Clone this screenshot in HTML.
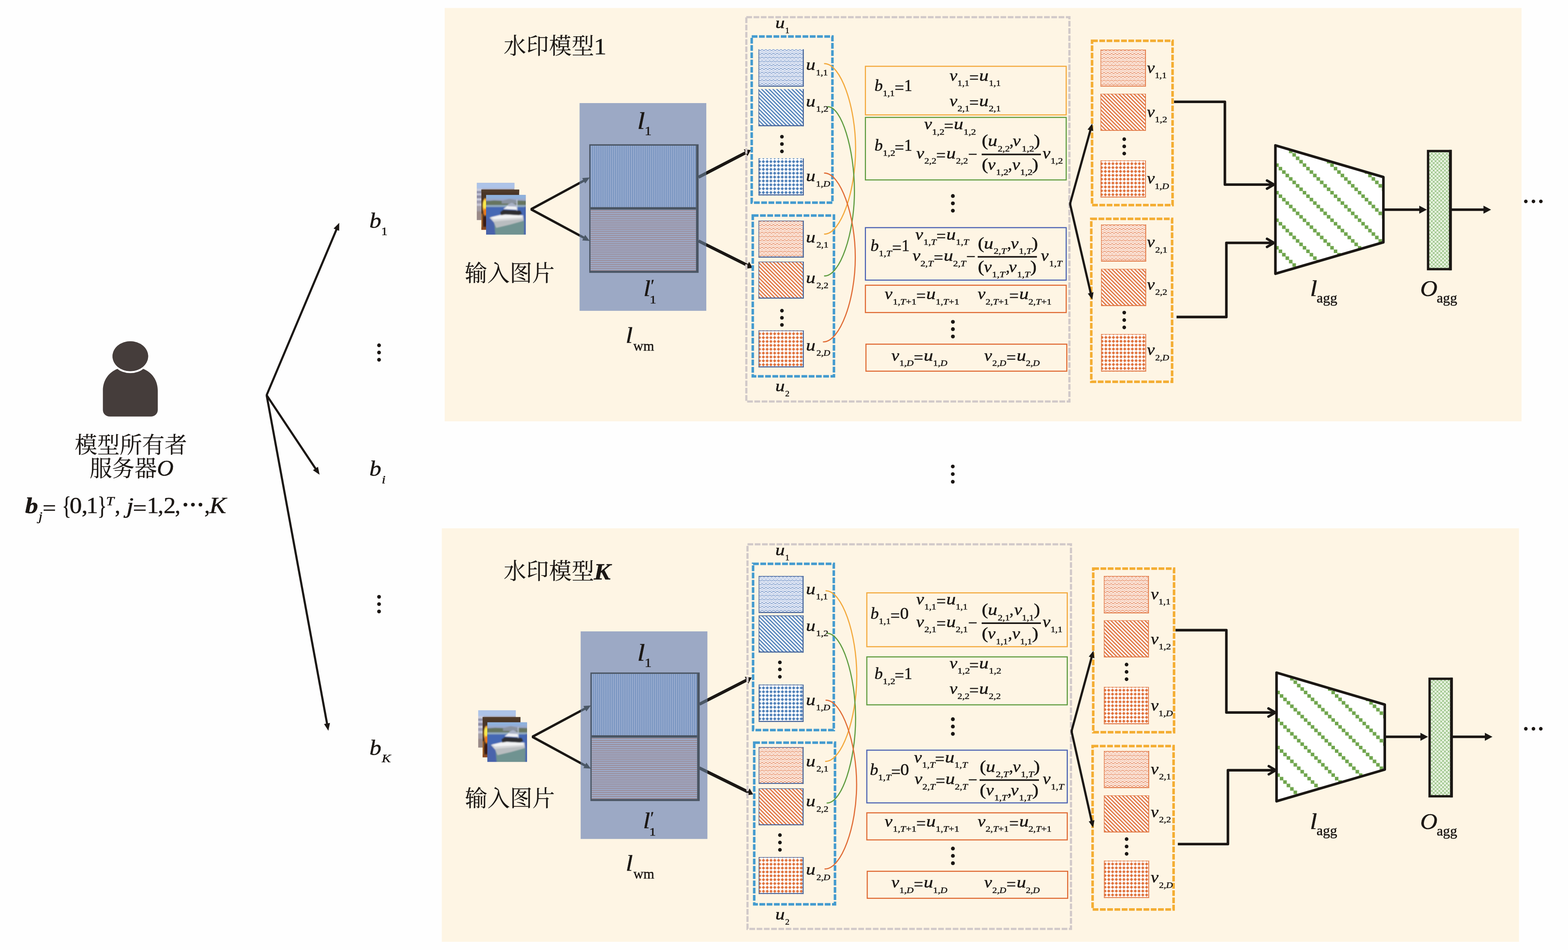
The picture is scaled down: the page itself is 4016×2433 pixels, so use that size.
<!DOCTYPE html>
<html lang="zh-CN"><head><meta charset="utf-8"><title>水印模型框架</title><style>
html,body{margin:0;padding:0;background:#fff;}
body{width:4016px;height:2433px;overflow:hidden;}
svg{display:block;}
text{fill:#1b1714;stroke:#1b1714;stroke-width:0.62px;stroke-linejoin:round;paint-order:stroke;white-space:pre;}
.i{font-family:"Liberation Serif","DejaVu Serif",serif;font-style:italic;}
.r{font-family:"Liberation Serif","DejaVu Serif",serif;font-style:normal;}
.bi{font-family:"Liberation Serif","DejaVu Serif",serif;font-style:italic;font-weight:bold;}
.bd{font-family:"Liberation Serif","DejaVu Serif",serif;font-weight:bold;}
.c{font-family:"Liberation Serif","Noto Serif CJK SC","Noto Serif CJK JP",serif;stroke-width:0.25px;}
</style></head><body><svg xmlns="http://www.w3.org/2000/svg" width="4016" height="2433" viewBox="0 0 4016 2433" style="will-change:transform"><defs><pattern id="wave_b" x="4.3" y="-0.6" width="9.68" height="9.68" patternUnits="userSpaceOnUse">
<rect width="9.68" height="9.68" fill="#fff"/>
<path d="M-4.84,0.5 L0,4.4 L4.84,0.5 L9.68,4.4 L14.52,0.5" fill="none" stroke="#6286c2" stroke-width="1.55" stroke-linejoin="round"/>
<path d="M-4.84,5.34 L0,9.24 L4.84,5.34 L9.68,9.24 L14.52,5.34" fill="none" stroke="#9db2dc" stroke-width="1.55" stroke-linejoin="round"/>
<path d="M-4.84,-4.34 L0,-0.44 L4.84,-4.34 L9.68,-0.44 L14.52,-4.34" fill="none" stroke="#9db2dc" stroke-width="1.55" stroke-linejoin="round"/>
<path d="M-4.84,10.18 L0,14.08 L4.84,10.18 L9.68,14.08 L14.52,10.18" fill="none" stroke="#6286c2" stroke-width="1.55" stroke-linejoin="round"/></pattern><pattern id="diag_b" x="7.8" y="0" width="9.68" height="9.68" patternUnits="userSpaceOnUse">
<rect width="9.68" height="9.68" fill="#fff"/>
<path d="M-3,-3 L12.68,12.68 M6.68,-3 L12.68,3 M-3,6.68 L3,12.68" fill="none" stroke="#4e7fb8" stroke-width="3.1"/></pattern><pattern id="dia_b" x="-2.12" y="3.45" width="9.68" height="9.9" patternUnits="userSpaceOnUse">
<rect width="9.68" height="9.9" fill="#fff"/>
<path d="M4.84,1.35 L8.54,4.95 L4.84,8.55 L1.14,4.95 Z" fill="#4e7fb8" stroke="#4e7fb8" stroke-width="1" stroke-linejoin="round"/></pattern><pattern id="wave_o" x="4.3" y="-0.6" width="9.68" height="9.68" patternUnits="userSpaceOnUse">
<rect width="9.68" height="9.68" fill="#fff"/>
<path d="M-4.84,0.5 L0,4.4 L4.84,0.5 L9.68,4.4 L14.52,0.5" fill="none" stroke="#e37846" stroke-width="1.55" stroke-linejoin="round"/>
<path d="M-4.84,5.34 L0,9.24 L4.84,5.34 L9.68,9.24 L14.52,5.34" fill="none" stroke="#f0ab88" stroke-width="1.55" stroke-linejoin="round"/>
<path d="M-4.84,-4.34 L0,-0.44 L4.84,-4.34 L9.68,-0.44 L14.52,-4.34" fill="none" stroke="#f0ab88" stroke-width="1.55" stroke-linejoin="round"/>
<path d="M-4.84,10.18 L0,14.08 L4.84,10.18 L9.68,14.08 L14.52,10.18" fill="none" stroke="#e37846" stroke-width="1.55" stroke-linejoin="round"/></pattern><pattern id="diag_o" x="7.8" y="0" width="9.68" height="9.68" patternUnits="userSpaceOnUse">
<rect width="9.68" height="9.68" fill="#fff"/>
<path d="M-3,-3 L12.68,12.68 M6.68,-3 L12.68,3 M-3,6.68 L3,12.68" fill="none" stroke="#e0723c" stroke-width="3.1"/></pattern><pattern id="dia_o" x="-2.12" y="3.45" width="9.68" height="9.9" patternUnits="userSpaceOnUse">
<rect width="9.68" height="9.9" fill="#fff"/>
<path d="M4.84,1.35 L8.54,4.95 L4.84,8.55 L1.14,4.95 Z" fill="#e0723c" stroke="#e0723c" stroke-width="1" stroke-linejoin="round"/></pattern><pattern id="vstr" x="-0.6" width="4.87" height="10" patternUnits="userSpaceOnUse">
<rect width="4.87" height="10" fill="#6b8cbb"/>
<rect x="2.2" width="2.3" height="10" fill="#a9b7d6"/>
<rect x="1.7" width="0.5" height="10" fill="#8aa1c9"/>
<rect x="4.5" width="0.37" height="10" fill="#8aa1c9"/></pattern><pattern id="hstr" y="-1.2" width="10" height="4.93" patternUnits="userSpaceOnUse">
<rect width="10" height="4.93" fill="#9db4d8"/>
<rect y="2.45" width="10" height="2.2" fill="#9b8186"/></pattern><pattern id="gdiag1" x="3275" y="427.4" width="70.56" height="70.56" patternUnits="userSpaceOnUse">
<rect width="70.56" height="70.56" fill="#fff"/>
<g fill="#6fa54d">
<rect x="-0.15" y="-0.15" width="9.12" height="9.12"/>
<rect x="8.67" y="8.67" width="9.12" height="9.12"/>
<rect x="17.49" y="17.49" width="9.12" height="9.12"/>
<rect x="26.31" y="26.31" width="9.12" height="9.12"/>
<rect x="35.13" y="35.13" width="9.12" height="9.12"/>
<rect x="43.95" y="43.95" width="9.12" height="9.12"/>
<rect x="52.77" y="52.77" width="9.12" height="9.12"/>
<rect x="61.59" y="61.59" width="9.12" height="9.12"/></g></pattern><pattern id="gdiag2" x="3277.9" y="1777.9" width="70.56" height="70.56" patternUnits="userSpaceOnUse">
<rect width="70.56" height="70.56" fill="#fff"/>
<g fill="#6fa54d">
<rect x="-0.15" y="-0.15" width="9.12" height="9.12"/>
<rect x="8.67" y="8.67" width="9.12" height="9.12"/>
<rect x="17.49" y="17.49" width="9.12" height="9.12"/>
<rect x="26.31" y="26.31" width="9.12" height="9.12"/>
<rect x="35.13" y="35.13" width="9.12" height="9.12"/>
<rect x="43.95" y="43.95" width="9.12" height="9.12"/>
<rect x="52.77" y="52.77" width="9.12" height="9.12"/>
<rect x="61.59" y="61.59" width="9.12" height="9.12"/></g></pattern><pattern id="gtrel" width="9.6" height="9.6" patternUnits="userSpaceOnUse">
<rect width="9.6" height="9.6" fill="#f6fbf2"/>
<path d="M-1,-1 L10.6,10.6 M10.6,-1 L-1,10.6" stroke="#79af60" stroke-width="1.25" fill="none"/>
<path d="M-1,3.8 L5.8,10.6 M3.8,-1 L10.6,5.8 M-1,5.8 L5.8,-1 M3.8,10.6 L10.6,3.8" stroke="#cfe5c3" stroke-width="0.7" fill="none"/></pattern><filter id="blur1" x="-10%" y="-10%" width="120%" height="120%"><feGaussianBlur stdDeviation="1.7"/></filter><filter id="soft" x="-5%" y="-5%" width="110%" height="110%"><feGaussianBlur stdDeviation="0.6"/></filter></defs>
<rect width="4016" height="2433" fill="#fefefe"/>
<g id="left"><ellipse cx="333.8" cy="912.3" rx="45.6" ry="38.3" fill="#453d3b"/>
<path d="M301.3,944.5 C315.8,956.3 351.8,956.3 366.3,944.5 C389.8,953.5 404.1,974.5 404.1,1000.5 V1049.7 C404.1,1059.7 396.1,1066.7 386.1,1066.7 H281.5 C271.5,1066.7 263.5,1059.7 263.5,1049.7 V1000.5 C263.5,974.5 277.8,953.5 301.3,944.5 Z" fill="#453d3b"/><ellipse cx="333.8" cy="912.3" rx="48.6" ry="41.6" fill="none" stroke="#fff" stroke-width="3.4"/><ellipse cx="333.8" cy="912.3" rx="45.6" ry="38.3" fill="#453d3b"/>
<text class="c" x="191.5" y="1160" font-size="57.5">模型所有者</text>
<text class="c" x="229.5" y="1220" font-size="57.5">服务器</text>
<text class="i" transform="translate(402.05,1218) scale(1.05,1)" font-size="56">O</text>
<text class="bi" transform="translate(64.16,1313.7) scale(1.16,1)" font-size="57.5" stroke-width="1">b</text>
<text class="i" transform="translate(98.56,1333.2) scale(1.16,1)" font-size="32">j</text>
<text class="r" transform="translate(108.94,1320.2) scale(1.06,1)" font-size="58">=</text>
<text class="r" transform="translate(158.86,1317.2) scale(0.76,1)" font-size="64.6">{</text>
<text class="r" transform="translate(178.24,1313.7) scale(1.06,1)" font-size="59.5">0</text>
<text class="r" transform="translate(209.05,1313.7) scale(1.08,1)" font-size="58">,</text>
<text class="r" transform="translate(220.64,1313.7) scale(1.03,1)" font-size="59.5">1</text>
<text class="r" transform="translate(249.86,1317.2) scale(0.76,1)" font-size="64.6">}</text>
<text class="i" transform="translate(271.73,1293.7) scale(1.16,1)" font-size="32">T</text>
<text class="r" transform="translate(293.88,1313.7) scale(0.98,1)" font-size="58">,</text>
<text class="i" transform="translate(323.87,1313.7) scale(1.16,1)" font-size="58">j</text>
<text class="r" transform="translate(340.33,1320.2) scale(1.09,1)" font-size="58">=</text>
<text class="r" transform="translate(376.09,1313.7) scale(1.04,1)" font-size="59.5">1</text>
<text class="r" transform="translate(404.38,1313.7) scale(0.98,1)" font-size="58">,</text>
<text class="r" transform="translate(419.05,1313.7) scale(1.05,1)" font-size="59.5">2</text>
<text class="r" transform="translate(447.88,1313.7) scale(0.98,1)" font-size="58">,</text>
<text class="r" transform="translate(462.23,1317.97)" font-size="76">·</text>
<text class="r" transform="translate(481.53,1317.97)" font-size="76">·</text>
<text class="r" transform="translate(500.83,1317.97)" font-size="76">·</text>
<text class="r" transform="translate(523.38,1313.7) scale(0.98,1)" font-size="58">,</text>
<text class="i" transform="translate(536.31,1313.7) scale(1.09,1)" font-size="59.5">K</text><line x1="682.9" y1="1012" x2="863.36" y2="583.93" stroke="#1b1714" stroke-width="5.4" stroke-linecap="butt"/><polygon points="868.9,570.8 868.66,591.32 854.38,585.3" fill="#1b1714"/><line x1="682.9" y1="1012" x2="810.6" y2="1203.84" stroke="#1b1714" stroke-width="5.4" stroke-linecap="butt"/><polygon points="818.5,1215.7 801.52,1204.18 814.42,1195.59" fill="#1b1714"/><line x1="682.9" y1="1012" x2="838.42" y2="1857.59" stroke="#1b1714" stroke-width="5.4" stroke-linecap="butt"/><polygon points="841,1871.6 829.94,1854.32 845.19,1851.51" fill="#1b1714"/><circle cx="683.5" cy="1011.5" r="2.7" fill="#1b1714"/>
<text class="i" transform="translate(946,583) scale(1.13,1)" font-size="54">b</text>
<text class="r" transform="translate(976.15,601.5) scale(1.09,1)" font-size="30">1</text>
<text class="i" transform="translate(946,1218.4) scale(1.13,1)" font-size="54">b</text>
<text class="i" transform="translate(977.74,1238) scale(1.16,1)" font-size="30">i</text>
<text class="i" transform="translate(946.2,1933.2) scale(1.13,1)" font-size="54">b</text>
<text class="i" transform="translate(977.81,1951.5) scale(1.16,1)" font-size="30">K</text><circle cx="970.8" cy="884.4" r="4.8" fill="#1b1714"/><circle cx="970.8" cy="902.8" r="4.8" fill="#1b1714"/><circle cx="970.8" cy="921.4" r="4.8" fill="#1b1714"/><circle cx="970.8" cy="1528.5" r="4.8" fill="#1b1714"/><circle cx="970.8" cy="1547.2" r="4.8" fill="#1b1714"/><circle cx="970.8" cy="1566" r="4.8" fill="#1b1714"/><circle cx="2440.3" cy="1194.7" r="4.8" fill="#1b1714"/><circle cx="2440.3" cy="1214.2" r="4.8" fill="#1b1714"/><circle cx="2440.3" cy="1233.8" r="4.8" fill="#1b1714"/></g>
<g id="panel1">
<rect x="1139" y="20.5" width="2758" height="1058.5" fill="#fef5e4"/><line x1="1360" y1="536" x2="1498.86" y2="460.85" stroke="#1b1714" stroke-width="6" stroke-linecap="butt"/><polygon points="1510.4,454.6 1498.82,469.97 1491.2,455.89" fill="#1b1714"/><line x1="1360" y1="536" x2="1498.84" y2="610.68" stroke="#1b1714" stroke-width="6" stroke-linecap="butt"/><polygon points="1510.4,616.9 1491.2,615.66 1498.78,601.56" fill="#1b1714"/><circle cx="1361.2" cy="536" r="2.7" fill="#1b1714"/><line x1="1789" y1="453.9" x2="1913.02" y2="389.49" stroke="#1b1714" stroke-width="8" stroke-linecap="butt"/><polygon points="1923,384.3 1914.3,400.09 1905.08,382.34" fill="#1b1714"/><line x1="1789" y1="617" x2="1917.43" y2="680.98" stroke="#1b1714" stroke-width="8" stroke-linecap="butt"/><polygon points="1927.5,686 1909.61,688.26 1918.53,670.36" fill="#1b1714"/>
<rect x="1484.4" y="264" width="324.6" height="532" fill="#9ca9c5"/><clipPath id="cbb1">
<rect x="1484.4" y="264" width="324.6" height="532" /></clipPath>
<g clip-path="url(#cbb1)"><line x1="1360" y1="536" x2="1498.86" y2="460.85" stroke="#4b5867" stroke-width="6" stroke-linecap="butt"/><polygon points="1510.4,454.6 1498.82,469.97 1491.2,455.89" fill="#4b5867"/><line x1="1360" y1="536" x2="1498.84" y2="610.68" stroke="#4b5867" stroke-width="6" stroke-linecap="butt"/><polygon points="1510.4,616.9 1491.2,615.66 1498.78,601.56" fill="#4b5867"/><line x1="1789" y1="453.9" x2="1913.02" y2="389.49" stroke="#4b5867" stroke-width="8" stroke-linecap="butt"/><polygon points="1923,384.3 1914.3,400.09 1905.08,382.34" fill="#4b5867"/><line x1="1789" y1="617" x2="1917.43" y2="680.98" stroke="#4b5867" stroke-width="8" stroke-linecap="butt"/><polygon points="1927.5,686 1909.61,688.26 1918.53,670.36" fill="#4b5867"/></g>
<g transform="translate(1512.4,373)">
<rect x="0" y="0" width="270.3" height="160.7" fill="url(#vstr)"/></g>
<g transform="translate(1512.4,536.9)">
<rect x="0" y="0" width="270.3" height="156.5" fill="url(#hstr)"/></g>
<path fill-rule="evenodd" fill="#4a5563" d="M1509.2,369.5 H1789.3 V698.8 H1509.2 Z M1512.4,373 H1782.7 V693.4 H1512.4 Z"/>
<rect x="1512.4" y="530.5" width="270.3" height="6.4" fill="#4a5563"/>
<text class="c" x="1290" y="137.5" font-size="57.5" letter-spacing="0.6">水印模型</text>
<text class="r" transform="translate(1520.79,139) scale(1.09,1)" font-size="60">1</text>
<text class="c" x="1190.5" y="719.5" font-size="57.5">输入图片</text>
<g transform="translate(1221.3,468.2)"><clipPath id="cb468">
<rect width="96.3" height="95.4"/></clipPath>
<g clip-path="url(#cb468)">
<rect width="96.3" height="95.4" fill="#a9a3ae"/>
<g filter="url(#blur1)">
<rect x="-3" y="-3" width="103" height="18" fill="#adc3e8"/>
<rect x="-3" y="15" width="16" height="6" fill="#c9cde0"/>
<rect x="-3" y="21" width="16" height="6" fill="#8f8fa8"/>
<rect x="-3" y="27" width="16" height="5" fill="#c6c8dc"/>
<rect x="-3" y="32" width="16" height="8" fill="#8c8aa3"/>
<rect x="-3" y="40" width="16" height="5" fill="#d2d4e4"/>
<rect x="-3" y="45" width="16" height="8" fill="#9f9cb0"/>
<rect x="-3" y="53" width="16" height="6" fill="#c8c6d4"/>
<rect x="-3" y="59" width="16" height="14" fill="#a49ea6"/>
<rect x="-3" y="73" width="16" height="26" fill="#9a8a88"/></g></g></g>
<g transform="translate(1232.8,485.5)"><clipPath id="cm485">
<rect width="97" height="103"/></clipPath>
<g clip-path="url(#cm485)">
<rect width="97" height="103" fill="#4a3627"/>
<g filter="url(#blur1)">
<rect x="-3" y="-3" width="103" height="10" fill="#503a2c"/><ellipse cx="10" cy="42" rx="7" ry="20" fill="#f3a838"/><ellipse cx="8.5" cy="38" rx="4.5" ry="11" fill="#f6ea4c"/><ellipse cx="10" cy="58" rx="5" ry="9" fill="#e8791f"/><ellipse cx="9" cy="82" rx="6" ry="14" fill="#3a1f14"/>
<rect x="-3" y="62" width="6" height="45" fill="#b06a2c"/>
<rect x="-3" y="96" width="18" height="10" fill="#8a4a22"/></g></g></g>
<g transform="translate(1245,499.2)"><clipPath id="cf499">
<rect width="101.5" height="101.5"/></clipPath>
<g clip-path="url(#cf499)">
<rect width="101.5" height="101.5" fill="#4e6cb0"/>
<g filter="url(#blur1)">
<rect x="-3" y="-3" width="108" height="17" fill="#8fb1dc"/>
<rect x="-3" y="9" width="108" height="6" fill="#9aa9cc"/>
<path d="M-3,16 L20,14 L45,15 L60,11 L75,14 L104,15 L104,27 L-3,27 Z" fill="#66755f"/>
<path d="M40,15 L60,10 L80,14 L80,22 L40,22 Z" fill="#8a93a0"/>
<rect x="-3" y="26" width="108" height="5" fill="#93acc0"/>
<rect x="-3" y="31" width="108" height="30" fill="#4568b4"/>
<path d="M18,75 L104,66 L104,104 L22,104 Z" fill="#6f9391"/>
<path d="M-3,60 L20,62 L24,104 L-3,104 Z" fill="#4a63ab"/>
<path d="M98,30 L104,30 L104,104 L97,104 Z" fill="#4764ae"/>
<path d="M9,58 L40,50 L95,52 L96,66 L60,76 L26,84 L20,70 Z" fill="#d4d6d8"/>
<path d="M12,57 L45,50 L93,53 L92,58 L20,62 Z" fill="#f2f3f4"/>
<path d="M20,68 L94,62 L95,66 L60,76 L26,84 Z" fill="#b9bdc0"/>
<path d="M44,36 L56,27 L76,27 L80,38 Z" fill="#f0f1f5"/>
<path d="M56,24 L66,20 L78,26 L78,30 L56,29 Z" fill="#a9b1c6"/>
<path d="M36,44 L44,38 L88,40 L92,48 L84,52 L50,50 L38,52 Z" fill="#2e2e30"/>
<rect x="78" y="12" width="2" height="28" fill="#c9d2e2"/></g></g></g>
<text class="i" transform="translate(1631.94,330) scale(1.16,1)" font-size="62">l</text>
<text class="r" transform="translate(1650.9,345.5) scale(1.11,1)" font-size="32">1</text>
<text class="i" transform="translate(1648.01,757.5) scale(1.16,1)" font-size="56">l</text>
<text class="r" transform="translate(1664.02,776.5) scale(1.13,1)" font-size="30">1</text>
<text class="r" transform="translate(1666.8,745.5)" font-size="44">′</text>
<text class="i" transform="translate(1602.33,877.5) scale(1.16,1)" font-size="57">l</text>
<text class="r" transform="translate(1622,897.5) scale(0.99,1)" font-size="36">wm</text>
<rect x="1911.5" y="44" width="827.5" height="984.3" fill="none" stroke="#d1c9c9" stroke-width="5.6" stroke-dasharray="14.6 4"/>
<text class="i" transform="translate(1985.76,72.3) scale(1.16,1)" font-size="41.8">u</text>
<text class="r" transform="translate(2011.08,84.8)" font-size="22">1</text>
<text class="i" transform="translate(1985.76,1002) scale(1.16,1)" font-size="41.8">u</text>
<text class="r" transform="translate(2011.07,1014.5)" font-size="22">2</text>
<rect x="1925.3" y="93.5" width="206.7" height="425.5" fill="none" stroke="#449bcf" stroke-width="6.5" stroke-dasharray="14.7 3.9"/>
<rect x="1928" y="552" width="207.9" height="411.8" fill="none" stroke="#449bcf" stroke-width="6.5" stroke-dasharray="14.7 3.9"/>
<g transform="translate(1942.7,126.3)">
<rect width="116" height="95.7" fill="url(#wave_b)"/>
<path d="M0.8,0 V95.7" fill="none" stroke="#47659a" stroke-width="1.6"/>
<path d="M114.65,0 V95.7" fill="none" stroke="#47659a" stroke-width="2.7"/>
<path d="M0,94.35 H116" fill="none" stroke="#47659a" stroke-width="2.7"/></g>
<g transform="translate(1942.7,228.2)">
<rect width="116" height="95.1" fill="url(#diag_b)"/>
<path d="M0.8,0 V95.1" fill="none" stroke="#47659a" stroke-width="1.6"/>
<path d="M114.65,0 V95.1" fill="none" stroke="#47659a" stroke-width="2.7"/>
<path d="M0,93.75 H116" fill="none" stroke="#47659a" stroke-width="2.7"/></g>
<g transform="translate(1942.7,405.5)">
<rect width="116" height="94.9" fill="url(#dia_b)"/>
<path d="M0.8,0 V94.9" fill="none" stroke="#47659a" stroke-width="1.6"/>
<path d="M114.65,0 V94.9" fill="none" stroke="#47659a" stroke-width="2.7"/>
<path d="M0,93.55 H116" fill="none" stroke="#47659a" stroke-width="2.7"/></g>
<g transform="translate(1942.7,565)">
<rect width="116" height="94.8" fill="url(#wave_o)"/>
<path d="M0.8,0 V94.8" fill="none" stroke="#47659a" stroke-width="1.6"/>
<path d="M114.65,0 V94.8" fill="none" stroke="#47659a" stroke-width="2.7"/>
<path d="M0,93.45 H116" fill="none" stroke="#47659a" stroke-width="2.7"/>
<path d="M0,0.8 H116" fill="none" stroke="#47659a" stroke-width="1.6"/></g>
<g transform="translate(1942.7,670)">
<rect width="116" height="94.8" fill="url(#diag_o)"/>
<path d="M0.8,0 V94.8" fill="none" stroke="#47659a" stroke-width="1.6"/>
<path d="M114.65,0 V94.8" fill="none" stroke="#47659a" stroke-width="2.7"/>
<path d="M0,93.45 H116" fill="none" stroke="#47659a" stroke-width="2.7"/>
<path d="M0,0.8 H116" fill="none" stroke="#47659a" stroke-width="1.6"/></g>
<g transform="translate(1942.7,846.4)">
<rect width="116" height="94.6" fill="url(#dia_o)"/>
<path d="M0.8,0 V94.6" fill="none" stroke="#47659a" stroke-width="1.6"/>
<path d="M114.65,0 V94.6" fill="none" stroke="#47659a" stroke-width="2.7"/>
<path d="M0,93.25 H116" fill="none" stroke="#47659a" stroke-width="2.7"/>
<path d="M0,0.8 H116" fill="none" stroke="#47659a" stroke-width="1.6"/></g><circle cx="2002.7" cy="350.1" r="4.7" fill="#1b1714"/><circle cx="2002.7" cy="368.9" r="4.7" fill="#1b1714"/><circle cx="2002.7" cy="387.7" r="4.7" fill="#1b1714"/><circle cx="2002.7" cy="795.7" r="4.7" fill="#1b1714"/><circle cx="2002.7" cy="813.9" r="4.7" fill="#1b1714"/><circle cx="2002.7" cy="832.1" r="4.7" fill="#1b1714"/>
<text class="i" transform="translate(2064.36,179.2) scale(1.16,1)" font-size="41.8">u</text>
<text transform="translate(2089.86,192.6) scale(1.11,1)" font-size="22" stroke-width="0.5"><tspan class="r">1,1</tspan></text>
<text class="i" transform="translate(2064.36,273) scale(1.16,1)" font-size="41.8">u</text>
<text transform="translate(2089.89,286.4) scale(1.16,1)" font-size="22" stroke-width="0.5"><tspan class="r">1,2</tspan></text>
<text class="i" transform="translate(2064.36,464.4) scale(1.16,1)" font-size="41.8">u</text>
<text transform="translate(2089.82,477.8) scale(1.13,1)" font-size="22" stroke-width="0.5"><tspan class="r">1,</tspan><tspan class="i">D</tspan></text>
<text class="i" transform="translate(2064.36,621) scale(1.16,1)" font-size="41.8">u</text>
<text transform="translate(2090.94,634.4) scale(1.13,1)" font-size="22" stroke-width="0.5"><tspan class="r">2,1</tspan></text>
<text class="i" transform="translate(2064.36,724.5) scale(1.16,1)" font-size="41.8">u</text>
<text transform="translate(2090.95,737.9) scale(1.12,1)" font-size="22" stroke-width="0.5"><tspan class="r">2,2</tspan></text>
<text class="i" transform="translate(2064.36,898) scale(1.16,1)" font-size="41.8">u</text>
<text transform="translate(2090.97,911.4) scale(1.1,1)" font-size="22" stroke-width="0.5"><tspan class="r">2,</tspan><tspan class="i">D</tspan></text>
<path d="M2111.8,163 C2153.19,163 2191.4,272.12 2191.4,381.25 C2191.4,490.38 2153.19,599.5 2111.8,599.5" fill="none" stroke="#f3a93c" stroke-width="2.9" stroke-linecap="round"/>
<path d="M2120,273.2 C2155.57,273.2 2188.4,381.6 2188.4,490 C2188.4,598.4 2151.63,706.8 2111.8,706.8" fill="none" stroke="#5f9c40" stroke-width="2.9" stroke-linecap="round"/>
<path d="M2111.8,443.2 C2152.78,443.2 2190.6,551.3 2190.6,659.4 C2190.6,767.5 2151.34,875.6 2108.8,875.6" fill="none" stroke="#e06c36" stroke-width="2.9" stroke-linecap="round"/>
<rect x="2797" y="104.4" width="206.2" height="420.9" fill="none" stroke="#f4ad32" stroke-width="6.5" stroke-dasharray="14.7 3.9"/>
<rect x="2795" y="560.5" width="207" height="417.2" fill="none" stroke="#f4ad32" stroke-width="6.5" stroke-dasharray="14.7 3.9"/>
<g transform="translate(2818.7,127)">
<rect width="116.3" height="94.8" fill="url(#wave_o)"/>
<path d="M0.75,0 V94.8" fill="none" stroke="#e27a47" stroke-width="1.5"/>
<path d="M115.2,0 V94.8" fill="none" stroke="#e27a47" stroke-width="2.2"/>
<path d="M0,93.6 H116.3" fill="none" stroke="#e27a47" stroke-width="2.4"/>
<path d="M0,0.65 H116.3" fill="none" stroke="#e27a47" stroke-width="1.3"/></g>
<g transform="translate(2818.7,240.2)">
<rect width="116.3" height="94.9" fill="url(#diag_o)"/>
<path d="M0.75,0 V94.9" fill="none" stroke="#e27a47" stroke-width="1.5"/>
<path d="M115.2,0 V94.9" fill="none" stroke="#e27a47" stroke-width="2.2"/>
<path d="M0,93.7 H116.3" fill="none" stroke="#e27a47" stroke-width="2.4"/>
<path d="M0,0.65 H116.3" fill="none" stroke="#e27a47" stroke-width="1.3"/></g>
<g transform="translate(2818.7,410.9)">
<rect width="116.3" height="94.9" fill="url(#dia_o)"/>
<path d="M0.75,0 V94.9" fill="none" stroke="#e27a47" stroke-width="1.5"/>
<path d="M115.2,0 V94.9" fill="none" stroke="#e27a47" stroke-width="2.2"/>
<path d="M0,93.7 H116.3" fill="none" stroke="#e27a47" stroke-width="2.4"/>
<path d="M0,0.65 H116.3" fill="none" stroke="#e27a47" stroke-width="1.3"/></g>
<g transform="translate(2820,575)">
<rect width="115.5" height="95" fill="url(#wave_o)"/>
<path d="M0.75,0 V95" fill="none" stroke="#e27a47" stroke-width="1.5"/>
<path d="M114.4,0 V95" fill="none" stroke="#e27a47" stroke-width="2.2"/>
<path d="M0,93.8 H115.5" fill="none" stroke="#e27a47" stroke-width="2.4"/>
<path d="M0,0.65 H115.5" fill="none" stroke="#e27a47" stroke-width="1.3"/></g>
<g transform="translate(2820,688.8)">
<rect width="115.5" height="94.9" fill="url(#diag_o)"/>
<path d="M0.75,0 V94.9" fill="none" stroke="#e27a47" stroke-width="1.5"/>
<path d="M114.4,0 V94.9" fill="none" stroke="#e27a47" stroke-width="2.2"/>
<path d="M0,93.7 H115.5" fill="none" stroke="#e27a47" stroke-width="2.4"/>
<path d="M0,0.65 H115.5" fill="none" stroke="#e27a47" stroke-width="1.3"/></g>
<g transform="translate(2820,855.8)">
<rect width="115.5" height="95.6" fill="url(#dia_o)"/>
<path d="M0.75,0 V95.6" fill="none" stroke="#e27a47" stroke-width="1.5"/>
<path d="M114.4,0 V95.6" fill="none" stroke="#e27a47" stroke-width="2.2"/>
<path d="M0,94.4 H115.5" fill="none" stroke="#e27a47" stroke-width="2.4"/>
<path d="M0,0.65 H115.5" fill="none" stroke="#e27a47" stroke-width="1.3"/></g><circle cx="2879.4" cy="356.5" r="4.7" fill="#1b1714"/><circle cx="2879.4" cy="374.9" r="4.7" fill="#1b1714"/><circle cx="2879.4" cy="393.3" r="4.7" fill="#1b1714"/><circle cx="2879.4" cy="800.6" r="4.7" fill="#1b1714"/><circle cx="2879.4" cy="819.7" r="4.7" fill="#1b1714"/><circle cx="2879.4" cy="838.5" r="4.7" fill="#1b1714"/>
<text class="i" transform="translate(2937.62,187) scale(1.08,1)" font-size="41.8">v</text>
<text transform="translate(2957.66,200.4) scale(1.11,1)" font-size="22" stroke-width="0.5"><tspan class="r">1,1</tspan></text>
<text class="i" transform="translate(2937.62,299.5) scale(1.08,1)" font-size="41.8">v</text>
<text transform="translate(2957.69,312.9) scale(1.16,1)" font-size="22" stroke-width="0.5"><tspan class="r">1,2</tspan></text>
<text class="i" transform="translate(2937.62,470.2) scale(1.08,1)" font-size="41.8">v</text>
<text transform="translate(2957.62,483.6) scale(1.13,1)" font-size="22" stroke-width="0.5"><tspan class="r">1,</tspan><tspan class="i">D</tspan></text>
<text class="i" transform="translate(2937.62,633.3) scale(1.08,1)" font-size="41.8">v</text>
<text transform="translate(2958.74,646.7) scale(1.13,1)" font-size="22" stroke-width="0.5"><tspan class="r">2,1</tspan></text>
<text class="i" transform="translate(2937.62,742) scale(1.08,1)" font-size="41.8">v</text>
<text transform="translate(2958.75,755.4) scale(1.12,1)" font-size="22" stroke-width="0.5"><tspan class="r">2,2</tspan></text>
<text class="i" transform="translate(2937.62,909.4) scale(1.08,1)" font-size="41.8">v</text>
<text transform="translate(2958.77,922.8) scale(1.1,1)" font-size="22" stroke-width="0.5"><tspan class="r">2,</tspan><tspan class="i">D</tspan></text><line x1="2740.6" y1="522" x2="2793.9" y2="329.41" stroke="#1b1714" stroke-width="5.6" stroke-linecap="butt"/><polygon points="2797.5,316.4 2799.93,335.75 2785.47,331.75" fill="#1b1714"/><line x1="2740.6" y1="522" x2="2794.45" y2="754.45" stroke="#1b1714" stroke-width="5.6" stroke-linecap="butt"/><polygon points="2797.5,767.6 2786.13,751.76 2800.74,748.37" fill="#1b1714"/><circle cx="2741.4" cy="522" r="2.8" fill="#1b1714"/>
<path d="M3007,260.8 H3137.2 V472.8 H3262" fill="none" stroke="#1b1714" stroke-width="6.6" stroke-linejoin="round"/>
<path d="M3245,462.3 L3263,472.8 L3245,483.3" fill="none" stroke="#1b1714" stroke-width="6.2" stroke-linecap="round" stroke-linejoin="round"/>
<path d="M3013.4,811.9 H3141 V622 H3262" fill="none" stroke="#1b1714" stroke-width="6.6" stroke-linejoin="round"/>
<path d="M3245,611.5 L3263,622 L3245,632.5" fill="none" stroke="#1b1714" stroke-width="6.2" stroke-linecap="round" stroke-linejoin="round"/><polygon points="3266.6,372.3 3543.2,453.5 3543.2,620.5 3266.6,701" fill="url(#gdiag1)" stroke="none"/><polygon points="3266.6,372.3 3543.2,453.5 3543.2,620.5 3266.6,701" fill="none" stroke="#1b1714" stroke-width="6.6" stroke-linejoin="round"/><line x1="3543.2" y1="537" x2="3639.88" y2="537" stroke="#1b1714" stroke-width="6.4" stroke-linecap="butt"/><polygon points="3654.5,537 3635,547.25 3635,526.75" fill="#1b1714"/>
<rect x="3657.6" y="386.8" width="56.8" height="302.5" fill="url(#gtrel)"/>
<rect x="3657.6" y="386.8" width="56.8" height="302.5" fill="none" stroke="#1b1714" stroke-width="6"/><line x1="3715" y1="383.8" x2="3715" y2="692.3" stroke="#1b1714" stroke-width="7.2"/><line x1="3717.9" y1="537" x2="3804.38" y2="537" stroke="#1b1714" stroke-width="6.4" stroke-linecap="butt"/><polygon points="3819,537 3799.5,547.25 3799.5,526.75" fill="#1b1714"/>
<text class="i" transform="translate(3355.33,758) scale(1.16,1)" font-size="57">l</text>
<text class="r" transform="translate(3372.23,774.6)" font-size="36.5">agg</text>
<text class="i" transform="translate(3637.56,757.5) scale(1.07,1)" font-size="57">O</text>
<text class="r" transform="translate(3679.84,774.5) scale(0.99,1)" font-size="36.5">agg</text><circle cx="3908" cy="515.8" r="4.6" fill="#1b1714"/><circle cx="3927.5" cy="515.8" r="4.6" fill="#1b1714"/><circle cx="3946.5" cy="515.8" r="4.6" fill="#1b1714"/>
<rect x="2216.5" y="169.8" width="514.3" height="124.4" fill="none" stroke="#f3a93c" stroke-width="2.8"/>
<text class="i" transform="translate(2239.7,233) scale(1.02,1)" font-size="41.8">b</text>
<text transform="translate(2261.06,246.4) scale(1.11,1)" font-size="22" stroke-width="0.5"><tspan class="r">1,1</tspan></text>
<text class="r" transform="translate(2291.13,237.8) scale(1.03,1)" font-size="42">=</text>
<text class="r" transform="translate(2315.78,233) scale(0.99,1)" font-size="42">1</text>
<text class="i" transform="translate(2431.92,206.9) scale(1.08,1)" font-size="41.8">v</text>
<text transform="translate(2452.26,220.3) scale(1.11,1)" font-size="22" stroke-width="0.5"><tspan class="r">1,1</tspan></text>
<text class="r" transform="translate(2482.43,211.7) scale(1.03,1)" font-size="42">=</text>
<text class="i" transform="translate(2507.66,206.9) scale(1.16,1)" font-size="41.8">u</text>
<text transform="translate(2532.66,220.3) scale(1.11,1)" font-size="22" stroke-width="0.5"><tspan class="r">1,1</tspan></text>
<text class="i" transform="translate(2431.92,271.6) scale(1.08,1)" font-size="41.8">v</text>
<text transform="translate(2452.34,285) scale(1.13,1)" font-size="22" stroke-width="0.5"><tspan class="r">2,1</tspan></text>
<text class="r" transform="translate(2482.43,276.4) scale(1.03,1)" font-size="42">=</text>
<text class="i" transform="translate(2507.66,271.6) scale(1.16,1)" font-size="41.8">u</text>
<text transform="translate(2532.44,285) scale(1.13,1)" font-size="22" stroke-width="0.5"><tspan class="r">2,1</tspan></text>
<rect x="2216.5" y="300.7" width="514.3" height="160.1" fill="none" stroke="#5f9c40" stroke-width="2.8"/>
<text class="i" transform="translate(2239.7,386) scale(1.02,1)" font-size="41.8">b</text>
<text transform="translate(2261.09,399.4) scale(1.16,1)" font-size="22" stroke-width="0.5"><tspan class="r">1,2</tspan></text>
<text class="r" transform="translate(2291.13,390.8) scale(1.03,1)" font-size="42">=</text>
<text class="r" transform="translate(2315.78,386) scale(0.99,1)" font-size="42">1</text>
<text class="i" transform="translate(2367.12,331.3) scale(1.08,1)" font-size="41.8">v</text>
<text transform="translate(2387.19,344.7) scale(1.16,1)" font-size="22" stroke-width="0.5"><tspan class="r">1,2</tspan></text>
<text class="r" transform="translate(2417.73,336.1) scale(1.03,1)" font-size="42">=</text>
<text class="i" transform="translate(2443.06,331.3) scale(1.16,1)" font-size="41.8">u</text>
<text transform="translate(2467.89,344.7) scale(1.16,1)" font-size="22" stroke-width="0.5"><tspan class="r">1,2</tspan></text>
<text class="i" transform="translate(2347.12,406) scale(1.08,1)" font-size="41.8">v</text>
<text transform="translate(2367.45,419.4) scale(1.12,1)" font-size="22" stroke-width="0.5"><tspan class="r">2,2</tspan></text>
<text class="r" transform="translate(2397.63,410.8) scale(1.03,1)" font-size="42">=</text>
<text class="i" transform="translate(2423.66,406) scale(1.16,1)" font-size="41.8">u</text>
<text transform="translate(2448.45,419.4) scale(1.12,1)" font-size="22" stroke-width="0.5"><tspan class="r">2,2</tspan></text>
<text class="r" transform="translate(2479.59,408.9)" font-size="42">−</text><line x1="2514.3" y1="395.6" x2="2666" y2="395.6" stroke="#1b1714" stroke-width="4"/>
<text class="r" transform="translate(2514.46,374.4) scale(1.16,1)" font-size="42">(</text>
<text class="i" transform="translate(2530.16,374.4) scale(1.16,1)" font-size="41.8">u</text>
<text transform="translate(2555.45,387.8) scale(1.12,1)" font-size="22" stroke-width="0.5"><tspan class="r">2,2</tspan></text>
<text class="r" transform="translate(2585.43,374.4)" font-size="42">,</text>
<text class="i" transform="translate(2593.92,374.4) scale(1.08,1)" font-size="41.8">v</text>
<text transform="translate(2616.89,387.8) scale(1.16,1)" font-size="22" stroke-width="0.5"><tspan class="r">1,2</tspan></text>
<text class="r" transform="translate(2647.74,374.4) scale(1.16,1)" font-size="42">)</text>
<text class="r" transform="translate(2514.46,434.6) scale(1.16,1)" font-size="42">(</text>
<text class="i" transform="translate(2529.72,434.6) scale(1.08,1)" font-size="41.8">v</text>
<text transform="translate(2550.89,448) scale(1.16,1)" font-size="22" stroke-width="0.5"><tspan class="r">1,2</tspan></text>
<text class="r" transform="translate(2581.93,434.6)" font-size="42">,</text>
<text class="i" transform="translate(2592.62,434.6) scale(1.08,1)" font-size="41.8">v</text>
<text transform="translate(2612.89,448) scale(1.16,1)" font-size="22" stroke-width="0.5"><tspan class="r">1,2</tspan></text>
<text class="r" transform="translate(2643.14,434.6) scale(1.16,1)" font-size="42">)</text>
<text class="i" transform="translate(2670.32,406) scale(1.08,1)" font-size="41.8">v</text>
<text transform="translate(2690.69,419.4) scale(1.16,1)" font-size="22" stroke-width="0.5"><tspan class="r">1,2</tspan></text><circle cx="2440.5" cy="502" r="4.9" fill="#1b1714"/><circle cx="2440.5" cy="520.8" r="4.9" fill="#1b1714"/><circle cx="2440.5" cy="539.6" r="4.9" fill="#1b1714"/>
<rect x="2216.5" y="583" width="514.3" height="134.4" fill="none" stroke="#4c63b3" stroke-width="2.8"/>
<text class="i" transform="translate(2229.6,643) scale(1.02,1)" font-size="41.8">b</text>
<text transform="translate(2250.72,656.4) scale(1.16,1)" font-size="22" stroke-width="0.5"><tspan class="r">1,</tspan><tspan class="i">T</tspan></text>
<text class="r" transform="translate(2284.83,647.8) scale(1.03,1)" font-size="42">=</text>
<text class="r" transform="translate(2309.08,643) scale(0.99,1)" font-size="42">1</text>
<text class="i" transform="translate(2344.32,613.6) scale(1.08,1)" font-size="41.8">v</text>
<text transform="translate(2365.22,627) scale(1.16,1)" font-size="22" stroke-width="0.5"><tspan class="r">1,</tspan><tspan class="i">T</tspan></text>
<text class="r" transform="translate(2398.23,618.4) scale(1.03,1)" font-size="42">=</text>
<text class="i" transform="translate(2423.66,613.6) scale(1.16,1)" font-size="41.8">u</text>
<text transform="translate(2448.22,627) scale(1.16,1)" font-size="22" stroke-width="0.5"><tspan class="r">1,</tspan><tspan class="i">T</tspan></text>
<text class="i" transform="translate(2337.32,668.3) scale(1.08,1)" font-size="41.8">v</text>
<text transform="translate(2357.42,681.7) scale(1.15,1)" font-size="22" stroke-width="0.5"><tspan class="r">2,</tspan><tspan class="i">T</tspan></text>
<text class="r" transform="translate(2391.53,673.1) scale(1.03,1)" font-size="42">=</text>
<text class="i" transform="translate(2416.96,668.3) scale(1.16,1)" font-size="41.8">u</text>
<text transform="translate(2441.12,681.7) scale(1.15,1)" font-size="22" stroke-width="0.5"><tspan class="r">2,</tspan><tspan class="i">T</tspan></text>
<text class="r" transform="translate(2474.69,671.2)" font-size="42">−</text><line x1="2504" y1="657.8" x2="2655.8" y2="657.8" stroke="#1b1714" stroke-width="4"/>
<text class="r" transform="translate(2504.46,637) scale(1.16,1)" font-size="42">(</text>
<text class="i" transform="translate(2520.06,637) scale(1.16,1)" font-size="41.8">u</text>
<text transform="translate(2544.92,650.4) scale(1.15,1)" font-size="22" stroke-width="0.5"><tspan class="r">2,</tspan><tspan class="i">T</tspan></text>
<text class="r" transform="translate(2579.43,637)" font-size="42">,</text>
<text class="i" transform="translate(2588.82,637) scale(1.08,1)" font-size="41.8">v</text>
<text transform="translate(2609.62,650.4) scale(1.16,1)" font-size="22" stroke-width="0.5"><tspan class="r">1,</tspan><tspan class="i">T</tspan></text>
<text class="r" transform="translate(2642.14,637) scale(1.16,1)" font-size="42">)</text>
<text class="r" transform="translate(2504.46,696.8) scale(1.16,1)" font-size="42">(</text>
<text class="i" transform="translate(2520.02,696.8) scale(1.08,1)" font-size="41.8">v</text>
<text transform="translate(2540.82,710.2) scale(1.16,1)" font-size="22" stroke-width="0.5"><tspan class="r">1,</tspan><tspan class="i">T</tspan></text>
<text class="r" transform="translate(2575.93,696.8)" font-size="42">,</text>
<text class="i" transform="translate(2583.72,696.8) scale(1.08,1)" font-size="41.8">v</text>
<text transform="translate(2604.92,710.2) scale(1.16,1)" font-size="22" stroke-width="0.5"><tspan class="r">1,</tspan><tspan class="i">T</tspan></text>
<text class="r" transform="translate(2638.84,696.8) scale(1.16,1)" font-size="42">)</text>
<text class="i" transform="translate(2665.82,668.3) scale(1.08,1)" font-size="41.8">v</text>
<text transform="translate(2687.02,681.7) scale(1.16,1)" font-size="22" stroke-width="0.5"><tspan class="r">1,</tspan><tspan class="i">T</tspan></text>
<rect x="2216.5" y="730.5" width="514.3" height="69.9" fill="none" stroke="#e06c36" stroke-width="2.8"/>
<text class="i" transform="translate(2265.82,766.2) scale(1.08,1)" font-size="41.8">v</text>
<text transform="translate(2286.69,779.6) scale(1.16,1)" font-size="22" stroke-width="0.5"><tspan class="r">1,</tspan><tspan class="i">T</tspan><tspan class="r">+1</tspan></text>
<text class="r" transform="translate(2346.83,771) scale(1.03,1)" font-size="42">=</text>
<text class="i" transform="translate(2372.26,766.2) scale(1.16,1)" font-size="41.8">u</text>
<text transform="translate(2396.49,779.6) scale(1.16,1)" font-size="22" stroke-width="0.5"><tspan class="r">1,</tspan><tspan class="i">T</tspan><tspan class="r">+1</tspan></text>
<text class="i" transform="translate(2504.02,766.2) scale(1.08,1)" font-size="41.8">v</text>
<text transform="translate(2524.33,779.6) scale(1.14,1)" font-size="22" stroke-width="0.5"><tspan class="r">2,</tspan><tspan class="i">T</tspan><tspan class="r">+1</tspan></text>
<text class="r" transform="translate(2584.63,771) scale(1.03,1)" font-size="42">=</text>
<text class="i" transform="translate(2610.46,766.2) scale(1.16,1)" font-size="41.8">u</text>
<text transform="translate(2633.93,779.6) scale(1.14,1)" font-size="22" stroke-width="0.5"><tspan class="r">2,</tspan><tspan class="i">T</tspan><tspan class="r">+1</tspan></text><circle cx="2440.6" cy="824.3" r="4.9" fill="#1b1714"/><circle cx="2440.6" cy="843" r="4.9" fill="#1b1714"/><circle cx="2440.6" cy="861.8" r="4.9" fill="#1b1714"/>
<rect x="2217.9" y="881.4" width="514.4" height="69.2" fill="none" stroke="#e06c36" stroke-width="2.8"/>
<text class="i" transform="translate(2283.02,923.8) scale(1.08,1)" font-size="41.8">v</text>
<text transform="translate(2303.42,937.2) scale(1.13,1)" font-size="22" stroke-width="0.5"><tspan class="r">1,</tspan><tspan class="i">D</tspan></text>
<text class="r" transform="translate(2340.23,928.6) scale(1.03,1)" font-size="42">=</text>
<text class="i" transform="translate(2365.66,923.8) scale(1.16,1)" font-size="41.8">u</text>
<text transform="translate(2389.82,937.2) scale(1.13,1)" font-size="22" stroke-width="0.5"><tspan class="r">1,</tspan><tspan class="i">D</tspan></text>
<text class="i" transform="translate(2520.72,923.8) scale(1.08,1)" font-size="41.8">v</text>
<text transform="translate(2541.57,937.2) scale(1.1,1)" font-size="22" stroke-width="0.5"><tspan class="r">2,</tspan><tspan class="i">D</tspan></text>
<text class="r" transform="translate(2577.83,928.6) scale(1.03,1)" font-size="42">=</text>
<text class="i" transform="translate(2603.66,923.8) scale(1.16,1)" font-size="41.8">u</text>
<text transform="translate(2627.47,937.2) scale(1.1,1)" font-size="22" stroke-width="0.5"><tspan class="r">2,</tspan><tspan class="i">D</tspan></text></g>
<g id="panel2">
<rect x="1131.5" y="1353" width="2759" height="1059" fill="#fef5e4"/><line x1="1363.4" y1="1887" x2="1501.83" y2="1812.89" stroke="#1b1714" stroke-width="6" stroke-linecap="butt"/><polygon points="1513.4,1806.7 1501.75,1822.01 1494.2,1807.91" fill="#1b1714"/><line x1="1363.4" y1="1887" x2="1501.87" y2="1962.33" stroke="#1b1714" stroke-width="6" stroke-linecap="butt"/><polygon points="1513.4,1968.6 1494.2,1967.26 1501.85,1953.21" fill="#1b1714"/><circle cx="1364.6" cy="1887" r="2.7" fill="#1b1714"/><line x1="1791.4" y1="1803.5" x2="1915.38" y2="1740.31" stroke="#1b1714" stroke-width="8" stroke-linecap="butt"/><polygon points="1925.4,1735.2 1916.58,1750.92 1907.49,1733.1" fill="#1b1714"/><line x1="1791" y1="1966.7" x2="1918.91" y2="2029.63" stroke="#1b1714" stroke-width="8" stroke-linecap="butt"/><polygon points="1929,2034.6 1911.13,2036.95 1919.96,2019.01" fill="#1b1714"/>
<rect x="1487.2" y="1617" width="324.6" height="531.6" fill="#9ca9c5"/><clipPath id="cbb2">
<rect x="1487.2" y="1617" width="324.6" height="531.6" /></clipPath>
<g clip-path="url(#cbb2)"><line x1="1363.4" y1="1887" x2="1501.83" y2="1812.89" stroke="#4b5867" stroke-width="6" stroke-linecap="butt"/><polygon points="1513.4,1806.7 1501.75,1822.01 1494.2,1807.91" fill="#4b5867"/><line x1="1363.4" y1="1887" x2="1501.87" y2="1962.33" stroke="#4b5867" stroke-width="6" stroke-linecap="butt"/><polygon points="1513.4,1968.6 1494.2,1967.26 1501.85,1953.21" fill="#4b5867"/><line x1="1791.4" y1="1803.5" x2="1915.38" y2="1740.31" stroke="#4b5867" stroke-width="8" stroke-linecap="butt"/><polygon points="1925.4,1735.2 1916.58,1750.92 1907.49,1733.1" fill="#4b5867"/><line x1="1791" y1="1966.7" x2="1918.91" y2="2029.63" stroke="#4b5867" stroke-width="8" stroke-linecap="butt"/><polygon points="1929,2034.6 1911.13,2036.95 1919.96,2019.01" fill="#4b5867"/></g>
<g transform="translate(1515.4,1725.7)">
<rect x="0" y="0" width="270.1" height="160.5" fill="url(#vstr)"/></g>
<g transform="translate(1515.4,1889.4)">
<rect x="0" y="0" width="270.1" height="156.8" fill="url(#hstr)"/></g>
<path fill-rule="evenodd" fill="#4a5563" d="M1512.2,1722.2 H1792.1 V2051.6 H1512.2 Z M1515.4,1725.7 H1785.5 V2046.2 H1515.4 Z"/>
<rect x="1515.4" y="1883" width="270.1" height="6.4" fill="#4a5563"/>
<text class="c" x="1290" y="1482.5" font-size="57.5" letter-spacing="0.6">水印模型</text>
<text class="bi" transform="translate(1520.98,1484) scale(1.07,1)" font-size="60">K</text>
<text class="c" x="1191" y="2065" font-size="57.5">输入图片</text>
<g transform="translate(1224.8,1819.1)"><clipPath id="cb1819">
<rect width="96.3" height="95.4"/></clipPath>
<g clip-path="url(#cb1819)">
<rect width="96.3" height="95.4" fill="#a9a3ae"/>
<g filter="url(#blur1)">
<rect x="-3" y="-3" width="103" height="18" fill="#adc3e8"/>
<rect x="-3" y="15" width="16" height="6" fill="#c9cde0"/>
<rect x="-3" y="21" width="16" height="6" fill="#8f8fa8"/>
<rect x="-3" y="27" width="16" height="5" fill="#c6c8dc"/>
<rect x="-3" y="32" width="16" height="8" fill="#8c8aa3"/>
<rect x="-3" y="40" width="16" height="5" fill="#d2d4e4"/>
<rect x="-3" y="45" width="16" height="8" fill="#9f9cb0"/>
<rect x="-3" y="53" width="16" height="6" fill="#c8c6d4"/>
<rect x="-3" y="59" width="16" height="14" fill="#a49ea6"/>
<rect x="-3" y="73" width="16" height="26" fill="#9a8a88"/></g></g></g>
<g transform="translate(1236.1,1836.4)"><clipPath id="cm1836">
<rect width="97" height="103"/></clipPath>
<g clip-path="url(#cm1836)">
<rect width="97" height="103" fill="#4a3627"/>
<g filter="url(#blur1)">
<rect x="-3" y="-3" width="103" height="10" fill="#503a2c"/><ellipse cx="10" cy="42" rx="7" ry="20" fill="#f3a838"/><ellipse cx="8.5" cy="38" rx="4.5" ry="11" fill="#f6ea4c"/><ellipse cx="10" cy="58" rx="5" ry="9" fill="#e8791f"/><ellipse cx="9" cy="82" rx="6" ry="14" fill="#3a1f14"/>
<rect x="-3" y="62" width="6" height="45" fill="#b06a2c"/>
<rect x="-3" y="96" width="18" height="10" fill="#8a4a22"/></g></g></g>
<g transform="translate(1248.3,1849.8)"><clipPath id="cf1849">
<rect width="101.5" height="101.5"/></clipPath>
<g clip-path="url(#cf1849)">
<rect width="101.5" height="101.5" fill="#4e6cb0"/>
<g filter="url(#blur1)">
<rect x="-3" y="-3" width="108" height="17" fill="#8fb1dc"/>
<rect x="-3" y="9" width="108" height="6" fill="#9aa9cc"/>
<path d="M-3,16 L20,14 L45,15 L60,11 L75,14 L104,15 L104,27 L-3,27 Z" fill="#66755f"/>
<path d="M40,15 L60,10 L80,14 L80,22 L40,22 Z" fill="#8a93a0"/>
<rect x="-3" y="26" width="108" height="5" fill="#93acc0"/>
<rect x="-3" y="31" width="108" height="30" fill="#4568b4"/>
<path d="M18,75 L104,66 L104,104 L22,104 Z" fill="#6f9391"/>
<path d="M-3,60 L20,62 L24,104 L-3,104 Z" fill="#4a63ab"/>
<path d="M98,30 L104,30 L104,104 L97,104 Z" fill="#4764ae"/>
<path d="M9,58 L40,50 L95,52 L96,66 L60,76 L26,84 L20,70 Z" fill="#d4d6d8"/>
<path d="M12,57 L45,50 L93,53 L92,58 L20,62 Z" fill="#f2f3f4"/>
<path d="M20,68 L94,62 L95,66 L60,76 L26,84 Z" fill="#b9bdc0"/>
<path d="M44,36 L56,27 L76,27 L80,38 Z" fill="#f0f1f5"/>
<path d="M56,24 L66,20 L78,26 L78,30 L56,29 Z" fill="#a9b1c6"/>
<path d="M36,44 L44,38 L88,40 L92,48 L84,52 L50,50 L38,52 Z" fill="#2e2e30"/>
<rect x="78" y="12" width="2" height="28" fill="#c9d2e2"/></g></g></g>
<text class="i" transform="translate(1632.04,1692) scale(1.16,1)" font-size="62">l</text>
<text class="r" transform="translate(1651,1707.5) scale(1.11,1)" font-size="32">1</text>
<text class="i" transform="translate(1647.01,2121) scale(1.16,1)" font-size="56">l</text>
<text class="r" transform="translate(1663.02,2140) scale(1.13,1)" font-size="30">1</text>
<text class="r" transform="translate(1665.8,2109)" font-size="44">′</text>
<text class="i" transform="translate(1602.53,2230.2) scale(1.16,1)" font-size="57">l</text>
<text class="r" transform="translate(1622.2,2250.2) scale(0.99,1)" font-size="36">wm</text>
<rect x="1914.5" y="1394" width="828.5" height="985" fill="none" stroke="#d1c9c9" stroke-width="5.6" stroke-dasharray="14.6 4"/>
<text class="i" transform="translate(1985.76,1422.3) scale(1.16,1)" font-size="41.8">u</text>
<text class="r" transform="translate(2011.08,1434.8)" font-size="22">1</text>
<text class="i" transform="translate(1985.76,2355) scale(1.16,1)" font-size="41.8">u</text>
<text class="r" transform="translate(2011.07,2367.5)" font-size="22">2</text>
<rect x="1928.8" y="1443.9" width="206.7" height="425.8" fill="none" stroke="#449bcf" stroke-width="6.5" stroke-dasharray="14.7 3.9"/>
<rect x="1931.7" y="1902" width="206.9" height="414" fill="none" stroke="#449bcf" stroke-width="6.5" stroke-dasharray="14.7 3.9"/>
<g transform="translate(1943,1475)">
<rect width="115.2" height="95" fill="url(#wave_b)"/>
<path d="M0.8,0 V95" fill="none" stroke="#47659a" stroke-width="1.6"/>
<path d="M113.85,0 V95" fill="none" stroke="#47659a" stroke-width="2.7"/>
<path d="M0,93.65 H115.2" fill="none" stroke="#47659a" stroke-width="2.7"/>
<path d="M0,0.8 H115.2" fill="none" stroke="#47659a" stroke-width="1.6"/></g>
<g transform="translate(1943,1576.3)">
<rect width="115.2" height="95" fill="url(#diag_b)"/>
<path d="M0.8,0 V95" fill="none" stroke="#47659a" stroke-width="1.6"/>
<path d="M113.85,0 V95" fill="none" stroke="#47659a" stroke-width="2.7"/>
<path d="M0,93.65 H115.2" fill="none" stroke="#47659a" stroke-width="2.7"/>
<path d="M0,0.8 H115.2" fill="none" stroke="#47659a" stroke-width="1.6"/></g>
<g transform="translate(1943,1753.4)">
<rect width="115.2" height="95.6" fill="url(#dia_b)"/>
<path d="M0.8,0 V95.6" fill="none" stroke="#47659a" stroke-width="1.6"/>
<path d="M113.85,0 V95.6" fill="none" stroke="#47659a" stroke-width="2.7"/>
<path d="M0,94.25 H115.2" fill="none" stroke="#47659a" stroke-width="2.7"/>
<path d="M0,0.8 H115.2" fill="none" stroke="#47659a" stroke-width="1.6"/></g>
<g transform="translate(1943,1913.4)">
<rect width="115.2" height="94.2" fill="url(#wave_o)"/>
<path d="M0.8,0 V94.2" fill="none" stroke="#47659a" stroke-width="1.6"/>
<path d="M113.85,0 V94.2" fill="none" stroke="#47659a" stroke-width="2.7"/>
<path d="M0,92.85 H115.2" fill="none" stroke="#47659a" stroke-width="2.7"/>
<path d="M0,0.8 H115.2" fill="none" stroke="#47659a" stroke-width="1.6"/></g>
<g transform="translate(1943,2018.9)">
<rect width="115.2" height="94.7" fill="url(#diag_o)"/>
<path d="M0.8,0 V94.7" fill="none" stroke="#47659a" stroke-width="1.6"/>
<path d="M113.85,0 V94.7" fill="none" stroke="#47659a" stroke-width="2.7"/>
<path d="M0,93.35 H115.2" fill="none" stroke="#47659a" stroke-width="2.7"/>
<path d="M0,0.8 H115.2" fill="none" stroke="#47659a" stroke-width="1.6"/></g>
<g transform="translate(1943,2195)">
<rect width="115.2" height="94.6" fill="url(#dia_o)"/>
<path d="M0.8,0 V94.6" fill="none" stroke="#47659a" stroke-width="1.6"/>
<path d="M113.85,0 V94.6" fill="none" stroke="#47659a" stroke-width="2.7"/>
<path d="M0,93.25 H115.2" fill="none" stroke="#47659a" stroke-width="2.7"/>
<path d="M0,0.8 H115.2" fill="none" stroke="#47659a" stroke-width="1.6"/></g><circle cx="1997.4" cy="1696.4" r="4.7" fill="#1b1714"/><circle cx="1997.4" cy="1714.4" r="4.7" fill="#1b1714"/><circle cx="1997.4" cy="1733.2" r="4.7" fill="#1b1714"/><circle cx="1997.6" cy="2138.8" r="4.7" fill="#1b1714"/><circle cx="1997.6" cy="2157.7" r="4.7" fill="#1b1714"/><circle cx="1997.6" cy="2176.5" r="4.7" fill="#1b1714"/>
<text class="i" transform="translate(2064.36,1522) scale(1.16,1)" font-size="41.8">u</text>
<text transform="translate(2089.86,1535.4) scale(1.11,1)" font-size="22" stroke-width="0.5"><tspan class="r">1,1</tspan></text>
<text class="i" transform="translate(2064.36,1615.7) scale(1.16,1)" font-size="41.8">u</text>
<text transform="translate(2089.89,1629.1) scale(1.16,1)" font-size="22" stroke-width="0.5"><tspan class="r">1,2</tspan></text>
<text class="i" transform="translate(2064.36,1806) scale(1.16,1)" font-size="41.8">u</text>
<text transform="translate(2089.82,1819.4) scale(1.13,1)" font-size="22" stroke-width="0.5"><tspan class="r">1,</tspan><tspan class="i">D</tspan></text>
<text class="i" transform="translate(2064.36,1963) scale(1.16,1)" font-size="41.8">u</text>
<text transform="translate(2090.94,1976.4) scale(1.13,1)" font-size="22" stroke-width="0.5"><tspan class="r">2,1</tspan></text>
<text class="i" transform="translate(2064.36,2065.3) scale(1.16,1)" font-size="41.8">u</text>
<text transform="translate(2090.95,2078.7) scale(1.12,1)" font-size="22" stroke-width="0.5"><tspan class="r">2,2</tspan></text>
<text class="i" transform="translate(2064.36,2240.3) scale(1.16,1)" font-size="41.8">u</text>
<text transform="translate(2090.97,2253.7) scale(1.1,1)" font-size="22" stroke-width="0.5"><tspan class="r">2,</tspan><tspan class="i">D</tspan></text>
<path d="M2115.6,1513 C2156.58,1513 2194.4,1622.25 2194.4,1731.5 C2194.4,1840.75 2156.05,1950 2114.5,1950" fill="none" stroke="#f3a93c" stroke-width="2.9" stroke-linecap="round"/>
<path d="M2119,1622 C2156.65,1622 2191.4,1730.65 2191.4,1839.3 C2191.4,1947.95 2156.31,2056.6 2118.3,2056.6" fill="none" stroke="#5f9c40" stroke-width="2.9" stroke-linecap="round"/>
<path d="M2115.6,1793.2 C2156.37,1793.2 2194,1901.28 2194,2009.35 C2194,2117.43 2155.12,2225.5 2113,2225.5" fill="none" stroke="#e06c36" stroke-width="2.9" stroke-linecap="round"/>
<rect x="2800" y="1456.3" width="207" height="419" fill="none" stroke="#f4ad32" stroke-width="6.5" stroke-dasharray="14.7 3.9"/>
<rect x="2798.4" y="1910.7" width="207.4" height="418.5" fill="none" stroke="#f4ad32" stroke-width="6.5" stroke-dasharray="14.7 3.9"/>
<g transform="translate(2827.3,1475)">
<rect width="115.2" height="95.7" fill="url(#wave_o)"/>
<path d="M0.75,0 V95.7" fill="none" stroke="#e27a47" stroke-width="1.5"/>
<path d="M114.1,0 V95.7" fill="none" stroke="#e27a47" stroke-width="2.2"/>
<path d="M0,94.5 H115.2" fill="none" stroke="#e27a47" stroke-width="2.4"/>
<path d="M0,0.65 H115.2" fill="none" stroke="#e27a47" stroke-width="1.3"/></g>
<g transform="translate(2827.3,1588.7)">
<rect width="115.2" height="94.9" fill="url(#diag_o)"/>
<path d="M0.75,0 V94.9" fill="none" stroke="#e27a47" stroke-width="1.5"/>
<path d="M114.1,0 V94.9" fill="none" stroke="#e27a47" stroke-width="2.2"/>
<path d="M0,93.7 H115.2" fill="none" stroke="#e27a47" stroke-width="2.4"/>
<path d="M0,0.65 H115.2" fill="none" stroke="#e27a47" stroke-width="1.3"/></g>
<g transform="translate(2827.3,1759.4)">
<rect width="115.2" height="95.3" fill="url(#dia_o)"/>
<path d="M0.75,0 V95.3" fill="none" stroke="#e27a47" stroke-width="1.5"/>
<path d="M114.1,0 V95.3" fill="none" stroke="#e27a47" stroke-width="2.2"/>
<path d="M0,94.1 H115.2" fill="none" stroke="#e27a47" stroke-width="2.4"/>
<path d="M0,0.65 H115.2" fill="none" stroke="#e27a47" stroke-width="1.3"/></g>
<g transform="translate(2827.5,1923.5)">
<rect width="115.7" height="94.7" fill="url(#wave_o)"/>
<path d="M0.75,0 V94.7" fill="none" stroke="#e27a47" stroke-width="1.5"/>
<path d="M114.6,0 V94.7" fill="none" stroke="#e27a47" stroke-width="2.2"/>
<path d="M0,93.5 H115.7" fill="none" stroke="#e27a47" stroke-width="2.4"/>
<path d="M0,0.65 H115.7" fill="none" stroke="#e27a47" stroke-width="1.3"/></g>
<g transform="translate(2827.5,2037)">
<rect width="115.7" height="95" fill="url(#diag_o)"/>
<path d="M0.75,0 V95" fill="none" stroke="#e27a47" stroke-width="1.5"/>
<path d="M114.6,0 V95" fill="none" stroke="#e27a47" stroke-width="2.2"/>
<path d="M0,93.8 H115.7" fill="none" stroke="#e27a47" stroke-width="2.4"/>
<path d="M0,0.65 H115.7" fill="none" stroke="#e27a47" stroke-width="1.3"/></g>
<g transform="translate(2827.5,2204.4)">
<rect width="115.7" height="95.4" fill="url(#dia_o)"/>
<path d="M0.75,0 V95.4" fill="none" stroke="#e27a47" stroke-width="1.5"/>
<path d="M114.6,0 V95.4" fill="none" stroke="#e27a47" stroke-width="2.2"/>
<path d="M0,94.2 H115.7" fill="none" stroke="#e27a47" stroke-width="2.4"/>
<path d="M0,0.65 H115.7" fill="none" stroke="#e27a47" stroke-width="1.3"/></g><circle cx="2885.4" cy="1702" r="4.7" fill="#1b1714"/><circle cx="2885.4" cy="1720.8" r="4.7" fill="#1b1714"/><circle cx="2885.4" cy="1739.5" r="4.7" fill="#1b1714"/><circle cx="2885.5" cy="2149" r="4.7" fill="#1b1714"/><circle cx="2885.5" cy="2167.9" r="4.7" fill="#1b1714"/><circle cx="2885.5" cy="2186.7" r="4.7" fill="#1b1714"/>
<text class="i" transform="translate(2947.32,1535) scale(1.08,1)" font-size="41.8">v</text>
<text transform="translate(2967.36,1548.4) scale(1.11,1)" font-size="22" stroke-width="0.5"><tspan class="r">1,1</tspan></text>
<text class="i" transform="translate(2947.32,1649.5) scale(1.08,1)" font-size="41.8">v</text>
<text transform="translate(2967.39,1662.9) scale(1.16,1)" font-size="22" stroke-width="0.5"><tspan class="r">1,2</tspan></text>
<text class="i" transform="translate(2947.32,1820.2) scale(1.08,1)" font-size="41.8">v</text>
<text transform="translate(2967.32,1833.6) scale(1.13,1)" font-size="22" stroke-width="0.5"><tspan class="r">1,</tspan><tspan class="i">D</tspan></text>
<text class="i" transform="translate(2947.32,1983) scale(1.08,1)" font-size="41.8">v</text>
<text transform="translate(2968.44,1996.4) scale(1.13,1)" font-size="22" stroke-width="0.5"><tspan class="r">2,1</tspan></text>
<text class="i" transform="translate(2947.32,2092.5) scale(1.08,1)" font-size="41.8">v</text>
<text transform="translate(2968.45,2105.9) scale(1.12,1)" font-size="22" stroke-width="0.5"><tspan class="r">2,2</tspan></text>
<text class="i" transform="translate(2947.32,2260.2) scale(1.08,1)" font-size="41.8">v</text>
<text transform="translate(2968.47,2273.6) scale(1.1,1)" font-size="22" stroke-width="0.5"><tspan class="r">2,</tspan><tspan class="i">D</tspan></text><line x1="2744.4" y1="1872.7" x2="2796.96" y2="1679.43" stroke="#1b1714" stroke-width="5.6" stroke-linecap="butt"/><polygon points="2800.5,1666.4 2803.01,1685.74 2788.54,1681.8" fill="#1b1714"/><line x1="2744.4" y1="1872.7" x2="2796.75" y2="2106.43" stroke="#1b1714" stroke-width="5.6" stroke-linecap="butt"/><polygon points="2799.7,2119.6 2788.45,2103.67 2803.08,2100.4" fill="#1b1714"/><circle cx="2745.2" cy="1872.7" r="2.8" fill="#1b1714"/>
<path d="M3010.7,1613.9 H3141 V1824.7 H3265.7" fill="none" stroke="#1b1714" stroke-width="6.6" stroke-linejoin="round"/>
<path d="M3248.7,1814.2 L3266.7,1824.7 L3248.7,1835.2" fill="none" stroke="#1b1714" stroke-width="6.2" stroke-linecap="round" stroke-linejoin="round"/>
<path d="M3016.7,2161.8 H3145 V1972.6 H3266.6" fill="none" stroke="#1b1714" stroke-width="6.6" stroke-linejoin="round"/>
<path d="M3249.6,1962.1 L3267.6,1972.6 L3249.6,1983.1" fill="none" stroke="#1b1714" stroke-width="6.2" stroke-linecap="round" stroke-linejoin="round"/><polygon points="3269.5,1722.7 3546.7,1804.5 3546.7,1970.8 3269.5,2052" fill="url(#gdiag2)" stroke="none"/><polygon points="3269.5,1722.7 3546.7,1804.5 3546.7,1970.8 3269.5,2052" fill="none" stroke="#1b1714" stroke-width="6.6" stroke-linejoin="round"/><line x1="3546.9" y1="1887" x2="3642.88" y2="1887" stroke="#1b1714" stroke-width="6.4" stroke-linecap="butt"/><polygon points="3657.5,1887 3638,1897.25 3638,1876.75" fill="#1b1714"/>
<rect x="3661.5" y="1738.4" width="55.5" height="300.9" fill="url(#gtrel)"/>
<rect x="3661.5" y="1738.4" width="55.5" height="300.9" fill="none" stroke="#1b1714" stroke-width="6"/><line x1="3717.6" y1="1735.4" x2="3717.6" y2="2042.3" stroke="#1b1714" stroke-width="7.2"/><line x1="3720.5" y1="1887" x2="3807.88" y2="1887" stroke="#1b1714" stroke-width="6.4" stroke-linecap="butt"/><polygon points="3822.5,1887 3803,1897.25 3803,1876.75" fill="#1b1714"/>
<text class="i" transform="translate(3355.03,2122.5) scale(1.16,1)" font-size="57">l</text>
<text class="r" transform="translate(3371.93,2139.1)" font-size="36.5">agg</text>
<text class="i" transform="translate(3637.56,2123) scale(1.07,1)" font-size="57">O</text>
<text class="r" transform="translate(3679.84,2140) scale(0.99,1)" font-size="36.5">agg</text><circle cx="3908" cy="1866.4" r="4.6" fill="#1b1714"/><circle cx="3927.5" cy="1866.4" r="4.6" fill="#1b1714"/><circle cx="3946.3" cy="1866.4" r="4.6" fill="#1b1714"/>
<rect x="2220.1" y="1518.3" width="513.4" height="137.9" fill="none" stroke="#f3a93c" stroke-width="2.8"/>
<text class="i" transform="translate(2229.6,1584.8) scale(1.02,1)" font-size="41.8">b</text>
<text transform="translate(2250.86,1598.2) scale(1.11,1)" font-size="22" stroke-width="0.5"><tspan class="r">1,1</tspan></text>
<text class="r" transform="translate(2280.43,1589.6) scale(1.03,1)" font-size="42">=</text>
<text class="r" transform="translate(2305.32,1584.8) scale(1.06,1)" font-size="42">0</text>
<text class="i" transform="translate(2346.62,1548) scale(1.08,1)" font-size="41.8">v</text>
<text transform="translate(2367.46,1561.4) scale(1.11,1)" font-size="22" stroke-width="0.5"><tspan class="r">1,1</tspan></text>
<text class="r" transform="translate(2398.23,1552.8) scale(1.03,1)" font-size="42">=</text>
<text class="i" transform="translate(2423.66,1548) scale(1.16,1)" font-size="41.8">u</text>
<text transform="translate(2447.86,1561.4) scale(1.11,1)" font-size="22" stroke-width="0.5"><tspan class="r">1,1</tspan></text>
<text class="i" transform="translate(2346.62,1605.6) scale(1.08,1)" font-size="41.8">v</text>
<text transform="translate(2367.44,1619) scale(1.13,1)" font-size="22" stroke-width="0.5"><tspan class="r">2,1</tspan></text>
<text class="r" transform="translate(2398.23,1610.4) scale(1.03,1)" font-size="42">=</text>
<text class="i" transform="translate(2423.66,1605.6) scale(1.16,1)" font-size="41.8">u</text>
<text transform="translate(2447.84,1619) scale(1.13,1)" font-size="22" stroke-width="0.5"><tspan class="r">2,1</tspan></text>
<text class="r" transform="translate(2479.59,1608.5)" font-size="42">−</text><line x1="2514.3" y1="1596" x2="2666" y2="1596" stroke="#1b1714" stroke-width="4"/>
<text class="r" transform="translate(2514.46,1575.4) scale(1.16,1)" font-size="42">(</text>
<text class="i" transform="translate(2530.16,1575.4) scale(1.16,1)" font-size="41.8">u</text>
<text transform="translate(2555.44,1588.8) scale(1.13,1)" font-size="22" stroke-width="0.5"><tspan class="r">2,1</tspan></text>
<text class="r" transform="translate(2585.43,1575.4)" font-size="42">,</text>
<text class="i" transform="translate(2597.82,1575.4) scale(1.08,1)" font-size="41.8">v</text>
<text transform="translate(2617.46,1588.8) scale(1.11,1)" font-size="22" stroke-width="0.5"><tspan class="r">1,1</tspan></text>
<text class="r" transform="translate(2647.74,1575.4) scale(1.16,1)" font-size="42">)</text>
<text class="r" transform="translate(2514.46,1636.2) scale(1.16,1)" font-size="42">(</text>
<text class="i" transform="translate(2529.72,1636.2) scale(1.08,1)" font-size="41.8">v</text>
<text transform="translate(2550.86,1649.6) scale(1.11,1)" font-size="22" stroke-width="0.5"><tspan class="r">1,1</tspan></text>
<text class="r" transform="translate(2581.93,1636.2)" font-size="42">,</text>
<text class="i" transform="translate(2592.62,1636.2) scale(1.08,1)" font-size="41.8">v</text>
<text transform="translate(2612.86,1649.6) scale(1.11,1)" font-size="22" stroke-width="0.5"><tspan class="r">1,1</tspan></text>
<text class="r" transform="translate(2643.14,1636.2) scale(1.16,1)" font-size="42">)</text>
<text class="i" transform="translate(2670.32,1605.6) scale(1.08,1)" font-size="41.8">v</text>
<text transform="translate(2690.66,1619) scale(1.11,1)" font-size="22" stroke-width="0.5"><tspan class="r">1,1</tspan></text>
<rect x="2220.1" y="1682.3" width="513.4" height="122.8" fill="none" stroke="#5f9c40" stroke-width="2.8"/>
<text class="i" transform="translate(2239.7,1738.6) scale(1.02,1)" font-size="41.8">b</text>
<text transform="translate(2261.09,1752) scale(1.16,1)" font-size="22" stroke-width="0.5"><tspan class="r">1,2</tspan></text>
<text class="r" transform="translate(2291.13,1743.4) scale(1.03,1)" font-size="42">=</text>
<text class="r" transform="translate(2315.78,1738.6) scale(0.99,1)" font-size="42">1</text>
<text class="i" transform="translate(2431.92,1711.8) scale(1.08,1)" font-size="41.8">v</text>
<text transform="translate(2452.29,1725.2) scale(1.16,1)" font-size="22" stroke-width="0.5"><tspan class="r">1,2</tspan></text>
<text class="r" transform="translate(2482.43,1716.6) scale(1.03,1)" font-size="42">=</text>
<text class="i" transform="translate(2507.66,1711.8) scale(1.16,1)" font-size="41.8">u</text>
<text transform="translate(2532.69,1725.2) scale(1.16,1)" font-size="22" stroke-width="0.5"><tspan class="r">1,2</tspan></text>
<text class="i" transform="translate(2431.92,1776.5) scale(1.08,1)" font-size="41.8">v</text>
<text transform="translate(2452.35,1789.9) scale(1.12,1)" font-size="22" stroke-width="0.5"><tspan class="r">2,2</tspan></text>
<text class="r" transform="translate(2482.43,1781.3) scale(1.03,1)" font-size="42">=</text>
<text class="i" transform="translate(2507.66,1776.5) scale(1.16,1)" font-size="41.8">u</text>
<text transform="translate(2532.45,1789.9) scale(1.12,1)" font-size="22" stroke-width="0.5"><tspan class="r">2,2</tspan></text><circle cx="2440.5" cy="1842" r="4.9" fill="#1b1714"/><circle cx="2440.5" cy="1860.7" r="4.9" fill="#1b1714"/><circle cx="2440.5" cy="1879.5" r="4.9" fill="#1b1714"/>
<rect x="2220.1" y="1921.2" width="513.4" height="135" fill="none" stroke="#4c63b3" stroke-width="2.8"/>
<text class="i" transform="translate(2228.1,1984.8) scale(1.02,1)" font-size="41.8">b</text>
<text transform="translate(2249.12,1998.2) scale(1.16,1)" font-size="22" stroke-width="0.5"><tspan class="r">1,</tspan><tspan class="i">T</tspan></text>
<text class="r" transform="translate(2282.23,1989.6) scale(1.03,1)" font-size="42">=</text>
<text class="r" transform="translate(2306.12,1984.8) scale(1.06,1)" font-size="42">0</text>
<text class="i" transform="translate(2341.02,1952.5) scale(1.08,1)" font-size="41.8">v</text>
<text transform="translate(2361.82,1965.9) scale(1.16,1)" font-size="22" stroke-width="0.5"><tspan class="r">1,</tspan><tspan class="i">T</tspan></text>
<text class="r" transform="translate(2394.83,1957.3) scale(1.03,1)" font-size="42">=</text>
<text class="i" transform="translate(2420.26,1952.5) scale(1.16,1)" font-size="41.8">u</text>
<text transform="translate(2444.82,1965.9) scale(1.16,1)" font-size="22" stroke-width="0.5"><tspan class="r">1,</tspan><tspan class="i">T</tspan></text>
<text class="i" transform="translate(2342.22,2008.3) scale(1.08,1)" font-size="41.8">v</text>
<text transform="translate(2362.52,2021.7) scale(1.15,1)" font-size="22" stroke-width="0.5"><tspan class="r">2,</tspan><tspan class="i">T</tspan></text>
<text class="r" transform="translate(2396.53,2013.1) scale(1.03,1)" font-size="42">=</text>
<text class="i" transform="translate(2421.46,2008.3) scale(1.16,1)" font-size="41.8">u</text>
<text transform="translate(2445.52,2021.7) scale(1.15,1)" font-size="22" stroke-width="0.5"><tspan class="r">2,</tspan><tspan class="i">T</tspan></text>
<text class="r" transform="translate(2479.59,2011.2)" font-size="42">−</text><line x1="2509" y1="1997.8" x2="2661" y2="1997.8" stroke="#1b1714" stroke-width="4"/>
<text class="r" transform="translate(2509.36,1977) scale(1.16,1)" font-size="42">(</text>
<text class="i" transform="translate(2524.96,1977) scale(1.16,1)" font-size="41.8">u</text>
<text transform="translate(2550.52,1990.4) scale(1.15,1)" font-size="22" stroke-width="0.5"><tspan class="r">2,</tspan><tspan class="i">T</tspan></text>
<text class="r" transform="translate(2584.43,1977)" font-size="42">,</text>
<text class="i" transform="translate(2593.92,1977) scale(1.08,1)" font-size="41.8">v</text>
<text transform="translate(2614.52,1990.4) scale(1.16,1)" font-size="22" stroke-width="0.5"><tspan class="r">1,</tspan><tspan class="i">T</tspan></text>
<text class="r" transform="translate(2647.34,1977) scale(1.16,1)" font-size="42">)</text>
<text class="r" transform="translate(2509.36,2036.8) scale(1.16,1)" font-size="42">(</text>
<text class="i" transform="translate(2525.22,2036.8) scale(1.08,1)" font-size="41.8">v</text>
<text transform="translate(2546.42,2050.2) scale(1.16,1)" font-size="22" stroke-width="0.5"><tspan class="r">1,</tspan><tspan class="i">T</tspan></text>
<text class="r" transform="translate(2580.43,2036.8)" font-size="42">,</text>
<text class="i" transform="translate(2588.82,2036.8) scale(1.08,1)" font-size="41.8">v</text>
<text transform="translate(2610.02,2050.2) scale(1.16,1)" font-size="22" stroke-width="0.5"><tspan class="r">1,</tspan><tspan class="i">T</tspan></text>
<text class="r" transform="translate(2643.74,2036.8) scale(1.16,1)" font-size="42">)</text>
<text class="i" transform="translate(2670.72,2008.3) scale(1.08,1)" font-size="41.8">v</text>
<text transform="translate(2691.52,2021.7) scale(1.16,1)" font-size="22" stroke-width="0.5"><tspan class="r">1,</tspan><tspan class="i">T</tspan></text>
<rect x="2220.1" y="2081.7" width="513.4" height="69.3" fill="none" stroke="#e06c36" stroke-width="2.8"/>
<text class="i" transform="translate(2265.82,2116.9) scale(1.08,1)" font-size="41.8">v</text>
<text transform="translate(2286.69,2130.3) scale(1.16,1)" font-size="22" stroke-width="0.5"><tspan class="r">1,</tspan><tspan class="i">T</tspan><tspan class="r">+1</tspan></text>
<text class="r" transform="translate(2346.83,2121.7) scale(1.03,1)" font-size="42">=</text>
<text class="i" transform="translate(2372.26,2116.9) scale(1.16,1)" font-size="41.8">u</text>
<text transform="translate(2396.49,2130.3) scale(1.16,1)" font-size="22" stroke-width="0.5"><tspan class="r">1,</tspan><tspan class="i">T</tspan><tspan class="r">+1</tspan></text>
<text class="i" transform="translate(2504.02,2116.9) scale(1.08,1)" font-size="41.8">v</text>
<text transform="translate(2524.33,2130.3) scale(1.14,1)" font-size="22" stroke-width="0.5"><tspan class="r">2,</tspan><tspan class="i">T</tspan><tspan class="r">+1</tspan></text>
<text class="r" transform="translate(2584.63,2121.7) scale(1.03,1)" font-size="42">=</text>
<text class="i" transform="translate(2610.46,2116.9) scale(1.16,1)" font-size="41.8">u</text>
<text transform="translate(2633.93,2130.3) scale(1.14,1)" font-size="22" stroke-width="0.5"><tspan class="r">2,</tspan><tspan class="i">T</tspan><tspan class="r">+1</tspan></text><circle cx="2440.6" cy="2173.2" r="4.9" fill="#1b1714"/><circle cx="2440.6" cy="2191.9" r="4.9" fill="#1b1714"/><circle cx="2440.6" cy="2210.7" r="4.9" fill="#1b1714"/>
<rect x="2221.2" y="2231.4" width="513.4" height="69.2" fill="none" stroke="#e06c36" stroke-width="2.8"/>
<text class="i" transform="translate(2283.02,2273.2) scale(1.08,1)" font-size="41.8">v</text>
<text transform="translate(2303.42,2286.6) scale(1.13,1)" font-size="22" stroke-width="0.5"><tspan class="r">1,</tspan><tspan class="i">D</tspan></text>
<text class="r" transform="translate(2340.23,2278) scale(1.03,1)" font-size="42">=</text>
<text class="i" transform="translate(2365.66,2273.2) scale(1.16,1)" font-size="41.8">u</text>
<text transform="translate(2389.82,2286.6) scale(1.13,1)" font-size="22" stroke-width="0.5"><tspan class="r">1,</tspan><tspan class="i">D</tspan></text>
<text class="i" transform="translate(2520.72,2273.2) scale(1.08,1)" font-size="41.8">v</text>
<text transform="translate(2541.57,2286.6) scale(1.1,1)" font-size="22" stroke-width="0.5"><tspan class="r">2,</tspan><tspan class="i">D</tspan></text>
<text class="r" transform="translate(2577.83,2278) scale(1.03,1)" font-size="42">=</text>
<text class="i" transform="translate(2603.66,2273.2) scale(1.16,1)" font-size="41.8">u</text>
<text transform="translate(2627.47,2286.6) scale(1.1,1)" font-size="22" stroke-width="0.5"><tspan class="r">2,</tspan><tspan class="i">D</tspan></text></g></svg></body></html>
